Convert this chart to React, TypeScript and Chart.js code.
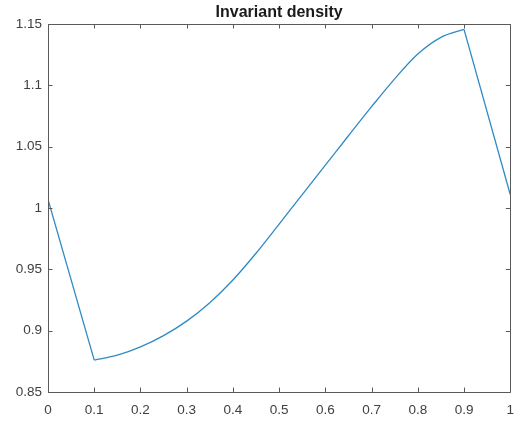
import React, { useEffect, useRef } from "react";
import { Chart, registerables } from "chart.js";

Chart.register(...registerables);

const xValues = [0, 0.1, 0.15, 0.2, 0.25, 0.3, 0.35, 0.4, 0.45, 0.5, 0.55, 0.6, 0.65, 0.7, 0.75, 0.8, 0.85, 0.9, 1.0];
const yValues = [1.007, 0.876, 0.880, 0.8868, 0.896, 0.9078, 0.9228, 0.9413, 0.9631, 0.9869, 1.0109, 1.0349, 1.0589, 1.0826, 1.1053, 1.1255, 1.1391, 1.1456, 1.011];
const xTicks = [0, 0.1, 0.2, 0.3, 0.4, 0.5, 0.6, 0.7, 0.8, 0.9, 1];
const yTicks = [0.85, 0.9, 0.95, 1, 1.05, 1.1, 1.15];
const titleText = "Invariant density";

const AXIS_COLOR = "#5a5a5a";
const TEXT_COLOR = "#404040";
const LINE_COLOR = "#2f8ac4";

const fmt = (v: number) => String(Number(v.toFixed(2)));

const framePlugin = {
  id: "matlabFrame",
  afterDraw(chart: any) {
    const { ctx, chartArea } = chart;
    const { left, right, top, bottom } = chartArea;
    const xs = chart.scales.x;
    const ys = chart.scales.y;
    ctx.save();
    ctx.strokeStyle = AXIS_COLOR;
    ctx.lineWidth = 1;
    ctx.beginPath();
    ctx.rect(Math.round(left) + 0.5, Math.round(top) + 0.5, Math.round(right - left), Math.round(bottom - top));
    ctx.stroke();
    const tl = 4.5;
    ctx.beginPath();
    xTicks.forEach((v) => {
      const px = Math.round(xs.getPixelForValue(v)) + 0.5;
      ctx.moveTo(px, bottom);
      ctx.lineTo(px, bottom - tl);
      ctx.moveTo(px, top);
      ctx.lineTo(px, top + tl);
    });
    yTicks.forEach((v) => {
      const py = Math.round(ys.getPixelForValue(v)) + 0.5;
      ctx.moveTo(left, py);
      ctx.lineTo(left + tl, py);
      ctx.moveTo(right, py);
      ctx.lineTo(right - tl, py);
    });
    ctx.stroke();
    ctx.fillStyle = "#1a1a1a";
    ctx.font = "bold 16px 'Liberation Sans', Arial, sans-serif";
    ctx.textAlign = "center";
    ctx.textBaseline = "alphabetic";
    ctx.fillText(titleText, (left + right) / 2, 17);
    ctx.restore();
  },
};

export default function App() {
  const canvasRef = useRef<HTMLCanvasElement | null>(null);

  useEffect(() => {
    if (!canvasRef.current) return;
    const pts = xValues.map((x, i) => ({ x, y: yValues[i] }));
    const n = pts.length;
    const lineStyle = {
      borderColor: LINE_COLOR,
      borderWidth: 1.3,
      pointRadius: 0,
      fill: false,
    };
    const chart = new Chart(canvasRef.current, {
      type: "line",
      data: {
        datasets: [
          { ...lineStyle, data: pts.slice(0, 2), tension: 0 },
          { ...lineStyle, data: pts.slice(1, n - 1), cubicInterpolationMode: "monotone" as const },
          { ...lineStyle, data: pts.slice(n - 2), tension: 0 },
        ],
      },
      options: {
        responsive: false,
        animation: false,
        layout: { padding: { top: 24, right: 10, left: 0, bottom: 0 } },
        plugins: {
          legend: { display: false },
          title: { display: false },
          tooltip: { enabled: false },
        },
        scales: {
          x: {
            type: "linear",
            min: 0,
            max: 1,
            grid: { display: false, drawTicks: false },
            border: { display: false },
            afterBuildTicks: (scale: any) => {
              scale.ticks = xTicks.map((v) => ({ value: v }));
            },
            afterFit: (scale: any) => {
              scale.height = 31;
            },
            ticks: {
              color: TEXT_COLOR,
              font: { family: "'Liberation Sans', Arial, sans-serif", size: 13.5 },
              padding: 10,
              maxRotation: 0,
              autoSkip: false,
              callback: (v: any) => fmt(Number(v)),
            },
          },
          y: {
            type: "linear",
            min: 0.85,
            max: 1.15,
            grid: { display: false, drawTicks: false },
            border: { display: false },
            afterBuildTicks: (scale: any) => {
              scale.ticks = yTicks.map((v) => ({ value: v }));
            },
            afterFit: (scale: any) => {
              scale.width = 48;
            },
            ticks: {
              color: TEXT_COLOR,
              font: { family: "'Liberation Sans', Arial, sans-serif", size: 13.5 },
              padding: 6,
              autoSkip: false,
              callback: (v: any) => fmt(Number(v)),
            },
          },
        },
      },
      plugins: [framePlugin],
    });
    return () => chart.destroy();
  }, []);

  return (
    <div style={{ position: "absolute", left: 0, top: 0, width: 524, height: 423, background: "#fff" }}>
      <canvas ref={canvasRef} width={524} height={423} />
    </div>
  );
}
